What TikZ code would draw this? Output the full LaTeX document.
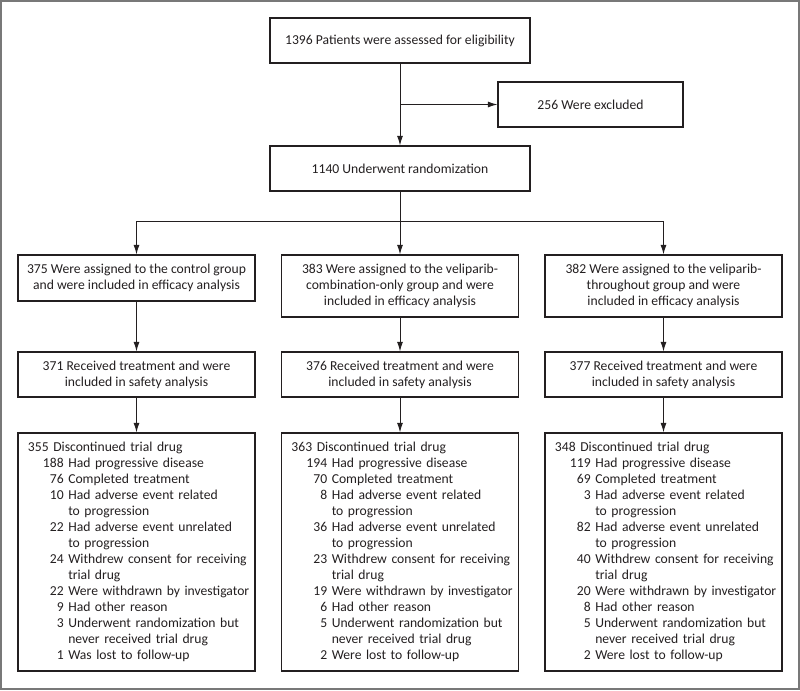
\documentclass[tikz,border=0pt]{standalone}
\usepackage{fontspec}
\setmainfont{Carlito}
\usetikzlibrary{positioning,arrows.meta}
\definecolor{ink}{RGB}{35,31,32}
\definecolor{framegray}{RGB}{120,120,120}

\begin{document}
\begin{tikzpicture}
   [x=0.025cm,y=-0.025cm,>={Latex[length=2.4mm,width=1.5mm]},
    every node/.style={draw=ink,line width=0.8pt,inner sep=0pt,text=ink,align=center,
                       font=\fontsize{9.7}{11.4}\selectfont},
    topbox/.style={minimum width=6.5cm,minimum height=1.125cm},
    armbox/.style={minimum width=5.925cm,minimum height=1.125cm},
    listbox/.style={armbox,minimum height=5.95cm,align=left,inner xsep=0.25cm,text width=5.425cm},
    link/.style={draw=ink,line width=0.7pt}]

\useasboundingbox (0,0) rectangle (800,690);
\draw[framegray,line width=1.4pt] (1,1) rectangle (799,689);

%%%%%%%%%%%%%%%%%%%%%%%%%%%%%%%%%%%%%%%%%%%%%%%%%%%%%%%%%%%%%%%
% Screening and randomization
%%%%%%%%%%%%%%%%%%%%%%%%%%%%%%%%%%%%%%%%%%%%%%%%%%%%%%%%%%%%%%%

\node[topbox](elig) at (400,40.5) {1396 Patients were assessed for eligibility};
\node[minimum width=4.625cm,minimum height=1.125cm](excl) at (590.5,104.5) {256 Were excluded};
\node[topbox](rand) at (400,168.5) {1140 Underwent randomization};

\coordinate (split) at (400,104.5);
\coordinate (fork) at (400,221);

%%%%%%%%%%%%%%%%%%%%%%%%%%%%%%%%%%%%%%%%%%%%%%%%%%%%%%%%%%%%%%%
% Assigned groups (efficacy analysis)
%%%%%%%%%%%%%%%%%%%%%%%%%%%%%%%%%%%%%%%%%%%%%%%%%%%%%%%%%%%%%%%

\node[armbox,minimum height=1.15cm](ctrl) at (136.5,278) {375 Were assigned to the control group\\and were included in efficacy analysis};
\node[armbox,minimum height=1.55cm](combo) at (400,286) {383 Were assigned to the veliparib-\\combination-only group and were\\included in efficacy analysis};
\node[armbox,minimum height=1.55cm](thru) at (663.5,286) {382 Were assigned to the veliparib-\\throughout group and were\\included in efficacy analysis};

%%%%%%%%%%%%%%%%%%%%%%%%%%%%%%%%%%%%%%%%%%%%%%%%%%%%%%%%%%%%%%%
% Safety analysis
%%%%%%%%%%%%%%%%%%%%%%%%%%%%%%%%%%%%%%%%%%%%%%%%%%%%%%%%%%%%%%%

\node[armbox](safe1) at (136.5,374.5) {371 Received treatment and were\\included in safety analysis};
\node[armbox](safe2) at (400,374.5) {376 Received treatment and were\\included in safety analysis};
\node[armbox](safe3) at (663.5,374.5) {377 Received treatment and were\\included in safety analysis};

%%%%%%%%%%%%%%%%%%%%%%%%%%%%%%%%%%%%%%%%%%%%%%%%%%%%%%%%%%%%%%%
% Discontinued trial drug
%%%%%%%%%%%%%%%%%%%%%%%%%%%%%%%%%%%%%%%%%%%%%%%%%%%%%%%%%%%%%%%

\node[listbox](disc1) at (136.5,552) {%
\begin{tabular}{@{\hspace{0.375cm}}r@{ }l@{}}
\multicolumn{2}{@{}l@{}}{355 Discontinued trial drug}\\
188 & Had progressive disease\\
76 & Completed treatment\\
10 & Had adverse event related\\
   & to progression\\
22 & Had adverse event unrelated\\
   & to progression\\
24 & Withdrew consent for receiving\\
   & trial drug\\
22 & Were withdrawn by investigator\\
9 & Had other reason\\
3 & Underwent randomization but\\
  & never received trial drug\\
1 & Was lost to follow-up
\end{tabular}};
\node[listbox](disc2) at (400,552) {%
\begin{tabular}{@{\hspace{0.375cm}}r@{ }l@{}}
\multicolumn{2}{@{}l@{}}{363 Discontinued trial drug}\\
194 & Had progressive disease\\
70 & Completed treatment\\
8 & Had adverse event related\\
  & to progression\\
36 & Had adverse event unrelated\\
   & to progression\\
23 & Withdrew consent for receiving\\
   & trial drug\\
19 & Were withdrawn by investigator\\
6 & Had other reason\\
5 & Underwent randomization but\\
  & never received trial drug\\
2 & Were lost to follow-up
\end{tabular}};
\node[listbox](disc3) at (663.5,552) {%
\begin{tabular}{@{\hspace{0.375cm}}r@{ }l@{}}
\multicolumn{2}{@{}l@{}}{348 Discontinued trial drug}\\
119 & Had progressive disease\\
69 & Completed treatment\\
3 & Had adverse event related\\
  & to progression\\
82 & Had adverse event unrelated\\
   & to progression\\
40 & Withdrew consent for receiving\\
   & trial drug\\
20 & Were withdrawn by investigator\\
8 & Had other reason\\
5 & Underwent randomization but\\
  & never received trial drug\\
2 & Were lost to follow-up
\end{tabular}};

%%%%%%%%%%%%%%%%%%%%%%%%%%%%%%%%%%%%%%%%%%%%%%%%%%%%%%%%%%%%%%%
% Connecting nodes
%%%%%%%%%%%%%%%%%%%%%%%%%%%%%%%%%%%%%%%%%%%%%%%%%%%%%%%%%%%%%%%

\draw[link,->] (elig) -- (rand);
\draw[link,->] (split) -- (excl);

\draw[link] (rand) -- (fork);
\draw[link,->] (fork) -| (ctrl);
\draw[link,->] (fork) -- (combo);
\draw[link,->] (fork) -| (thru);

\draw[link,->] (ctrl) -- (safe1);
\draw[link,->] (combo) -- (safe2);
\draw[link,->] (thru) -- (safe3);

\draw[link,->] (safe1) -- (disc1);
\draw[link,->] (safe2) -- (disc2);
\draw[link,->] (safe3) -- (disc3);

\end{tikzpicture}
\end{document}
